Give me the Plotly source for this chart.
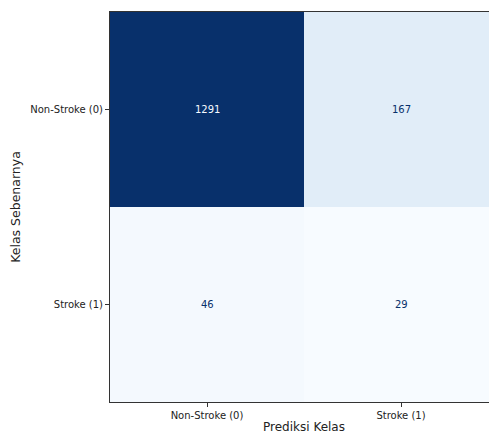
import plotly.graph_objects as go

# Confusion matrix counts (rows: true class, columns: predicted class)
class_labels = ["Non-Stroke (0)", "Stroke (1)"]
counts = [
    [1291, 167],
    [46, 29],
]

# Matplotlib-style "Blues" colormap
blues = [
    [0.0, "#f7fbff"], [0.125, "#deebf7"], [0.25, "#c6dbef"],
    [0.375, "#9ecae1"], [0.5, "#6baed6"], [0.625, "#4292c6"],
    [0.75, "#2171b5"], [0.875, "#08519c"], [1.0, "#08306b"],
]

flat = [v for row in counts for v in row]
zmin, zmax = min(flat), max(flat)
threshold = (zmin + zmax) / 2

fig = go.Figure(
    go.Heatmap(
        z=counts,
        x=class_labels,
        y=class_labels,
        colorscale=blues,
        zmin=zmin,
        zmax=zmax,
        showscale=False,
        hoverinfo="skip",
    )
)

annotations = []
for i, true_lbl in enumerate(class_labels):
    for j, pred_lbl in enumerate(class_labels):
        v = counts[i][j]
        annotations.append(dict(
            x=pred_lbl, y=true_lbl, text=str(v), showarrow=False,
            font=dict(family="DejaVu Sans", size=10,
                      color="#f7fbff" if v > threshold else "#08306b"),
        ))

axis_common = dict(
    type="category", automargin=False,
    showline=True, mirror=True, linecolor="#333333", linewidth=1,
    ticks="outside", ticklen=4, tickcolor="#333333", tickwidth=1,
    showgrid=False, zeroline=False,
    tickfont=dict(family="DejaVu Sans", size=10, color="#222222"),
)

fig.update_layout(
    width=499, height=434,
    margin=dict(l=110, r=1, t=12, b=32),
    paper_bgcolor="white", plot_bgcolor="white",
    annotations=annotations,
    xaxis=dict(**axis_common,
               title=dict(text="Prediksi Kelas", standoff=9,
                          font=dict(family="DejaVu Sans", size=12, color="#222222"))),
    yaxis=dict(**axis_common, autorange="reversed",
               title=dict(text="Kelas Sebenarnya", standoff=6,
                          font=dict(family="DejaVu Sans", size=12.5, color="#222222"))),
)

fig.write_html("out.html")
